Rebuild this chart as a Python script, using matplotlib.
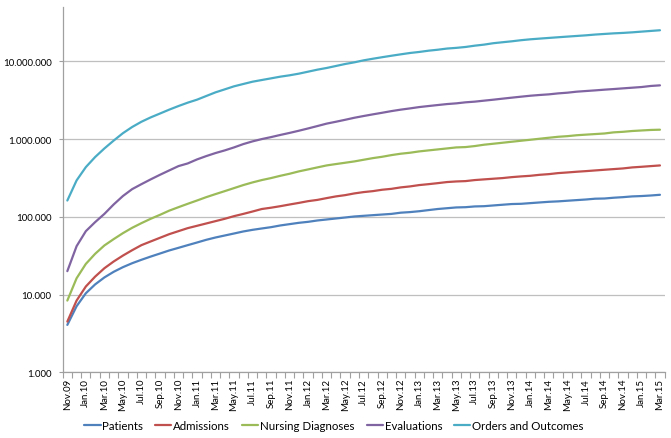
import matplotlib
matplotlib.use("Agg")
import matplotlib.pyplot as plt
from matplotlib.ticker import FixedLocator, FuncFormatter, NullLocator

months = ["Nov.09", "Dec.09",
          "Jan.10", "Feb.10", "Mar.10", "Apr.10", "May.10", "Jun.10", "Jul.10", "Aug.10", "Sep.10", "Oct.10", "Nov.10", "Dec.10",
          "Jan.11", "Feb.11", "Mar.11", "Apr.11", "May.11", "Jun.11", "Jul.11", "Aug.11", "Sep.11", "Oct.11", "Nov.11", "Dec.11",
          "Jan.12", "Feb.12", "Mar.12", "Apr.12", "May.12", "Jun.12", "Jul.12", "Aug.12", "Sep.12", "Oct.12", "Nov.12", "Dec.12",
          "Jan.13", "Feb.13", "Mar.13", "Apr.13", "May.13", "Jun.13", "Jul.13", "Aug.13", "Sep.13", "Oct.13", "Nov.13", "Dec.13",
          "Jan.14", "Feb.14", "Mar.14", "Apr.14", "May.14", "Jun.14", "Jul.14", "Aug.14", "Sep.14", "Oct.14", "Nov.14", "Dec.14",
          "Jan.15", "Feb.15", "Mar.15"]

patients = [4070, 7080, 10400, 13500, 16600, 19600, 22500, 25300, 28000, 30800,
            33700, 36900, 39900, 43200, 46700, 50600, 54200, 57500, 61000, 64800,
            68000, 70800, 73600, 77400, 80500, 83700, 86200, 89700, 92400, 95200,
            98000, 101000, 103000, 105000, 107000, 109000, 113000, 115000, 118000, 122000,
            126000, 129000, 132000, 133000, 136000, 137000, 140000, 143000, 146000, 147000,
            150000, 153000, 156000, 158000, 161000, 164000, 167000, 171000, 172000, 176000,
            179000, 183000, 185000, 188000, 192000]

admissions = [4490, 8370, 12700, 17000, 21800, 26600, 31700, 37200, 43200, 48200,
              53700, 59800, 65400, 71500, 76600, 82100, 88000, 94300, 102000, 109000,
              117000, 126000, 131000, 137000, 144000, 151000, 159000, 165000, 174000, 183000,
              190000, 200000, 208000, 214000, 223000, 229000, 239000, 246000, 256000, 263000,
              271000, 280000, 285000, 288000, 297000, 303000, 309000, 315000, 324000, 331000,
              337000, 347000, 354000, 365000, 372000, 380000, 387000, 395000, 403000, 411000,
              419000, 432000, 440000, 449000, 458000]

nursing = [8370, 16200, 24800, 33400, 42800, 51600, 61600, 72200, 82900, 94300,
           106000, 120000, 133000, 147000, 162000, 179000, 196000, 214000, 234000, 256000,
           277000, 297000, 315000, 337000, 358000, 384000, 407000, 432000, 458000, 477000,
           496000, 516000, 542000, 569000, 592000, 622000, 648000, 667000, 694000, 715000,
           736000, 758000, 781000, 789000, 813000, 846000, 871000, 897000, 924000, 952000,
           980000, 1010000, 1040000, 1070000, 1090000, 1120000, 1140000, 1160000, 1180000, 1220000,
           1240000, 1270000, 1290000, 1310000, 1320000]

evaluations = [20000, 41900, 65400, 85400, 109000, 144000, 185000, 227000, 263000, 303000,
               347000, 395000, 449000, 486000, 547000, 604000, 661000, 715000, 781000, 862000,
               934000, 1000000, 1060000, 1130000, 1200000, 1280000, 1370000, 1470000, 1580000, 1670000,
               1770000, 1880000, 1980000, 2080000, 2180000, 2290000, 2390000, 2480000, 2580000, 2660000,
               2740000, 2820000, 2880000, 2970000, 3030000, 3120000, 3210000, 3310000, 3410000, 3510000,
               3610000, 3690000, 3760000, 3870000, 3950000, 4070000, 4150000, 4230000, 4320000, 4400000,
               4490000, 4580000, 4670000, 4820000, 4910000]

orders = [162000, 294000, 436000, 587000, 757000, 955000, 1190000, 1430000, 1670000, 1900000,
          2130000, 2390000, 2660000, 2940000, 3210000, 3580000, 3990000, 4360000, 4770000, 5110000,
          5470000, 5750000, 6040000, 6350000, 6610000, 6940000, 7360000, 7810000, 8210000, 8710000,
          9240000, 9710000, 10300000, 10800000, 11300000, 11800000, 12300000, 12800000, 13200000, 13700000,
          14100000, 14600000, 14900000, 15300000, 15900000, 16400000, 17100000, 17600000, 18100000, 18700000,
          19200000, 19600000, 20000000, 20400000, 20800000, 21200000, 21600000, 22100000, 22500000, 22900000,
          23200000, 23600000, 24100000, 24600000, 25100000]

series_names = ["Patients", "Admissions", "Nursing Diagnoses", "Evaluations", "Orders and Outcomes"]
series_values = [patients, admissions, nursing, evaluations, orders]
colors = ["#4F81BD", "#C0504D", "#9BBB59", "#8064A2", "#4BACC6"]
y_ticks = [1000, 10000, 100000, 1000000, 10000000]

FONT = ["Lato", "DejaVu Sans"]
plt.rcParams["font.family"] = FONT

fig = plt.figure(figsize=(6.71, 4.39), dpi=100)
ax = fig.add_axes([62.7 / 671, 1 - 373.3 / 439, (664.6 - 62.7) / 671, (373.3 - 8.3) / 439])

x = list(range(len(months)))
for name, vals, c in zip(series_names, series_values, colors):
    ax.plot(x, vals, color=c, lw=1.6, label=name, solid_capstyle="round", solid_joinstyle="round")

ax.set_yscale("log")
ax.set_ylim(1000, 10 ** 7.695)
ax.set_xlim(-0.5, len(months) - 0.5)

ax.yaxis.set_major_locator(FixedLocator(y_ticks))
ax.yaxis.set_minor_locator(NullLocator())
ax.yaxis.set_major_formatter(FuncFormatter(lambda v, p: f"{int(round(v)):,}".replace(",", ".")))
ax.grid(axis="y", which="major", color="#BFBFBF", lw=0.9)
ax.set_axisbelow(True)

ax.xaxis.set_major_locator(FixedLocator(x[::2]))
ax.set_xticklabels(months[::2], rotation=90)
ax.xaxis.set_minor_locator(FixedLocator([i - 0.5 for i in range(len(months) + 1)]))
ax.tick_params(axis="x", which="major", length=0, pad=4, labelsize=7, colors="#000000")
ax.tick_params(axis="x", which="minor", length=4, color="#A0A0A0", width=0.8)
ax.tick_params(axis="y", which="major", length=3, color="#A0A0A0", width=0.8, labelsize=7, pad=5)

for s in ["top", "right"]:
    ax.spines[s].set_visible(False)
for s in ["left", "bottom"]:
    ax.spines[s].set_color("#A0A0A0")
    ax.spines[s].set_linewidth(0.9)

handles, labels = ax.get_legend_handles_labels()
fig.legend(handles, labels, loc="center", bbox_to_anchor=(334 / 671, 1 - 427 / 439), ncol=5,
           frameon=False, fontsize=8.3, handlelength=1.4, handletextpad=0.15, columnspacing=1.05,
           borderaxespad=0)

fig.savefig("out.png", dpi=100)
